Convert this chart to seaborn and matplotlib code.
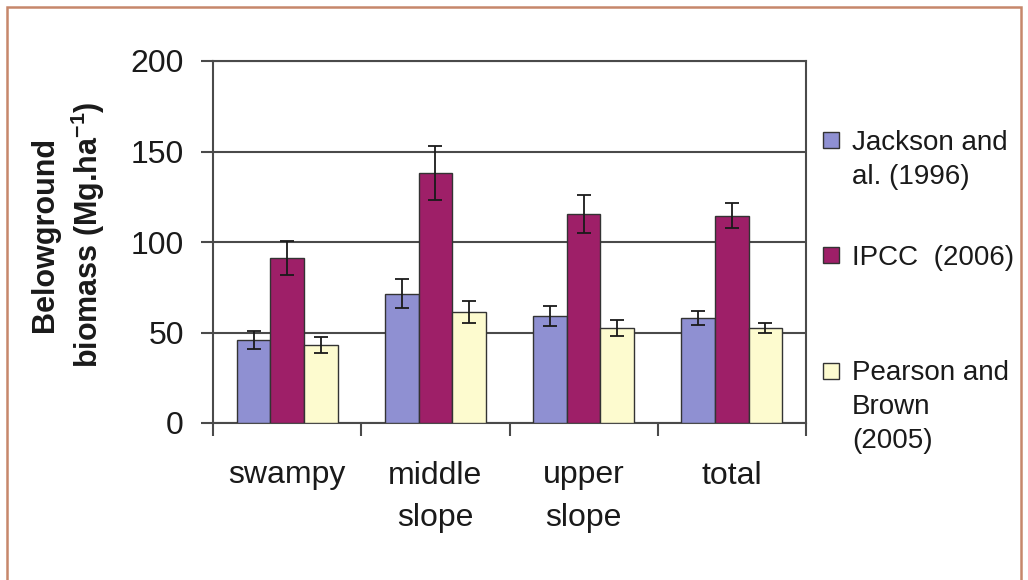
import numpy as np
import pandas as pd
import matplotlib
matplotlib.use("Agg")
import matplotlib.pyplot as plt
import seaborn as sns
from matplotlib.patches import Patch, Rectangle
from matplotlib.legend_handler import HandlerPatch

# ---------------- data ----------------
sites = ["swampy", "middle slope", "upper slope", "total"]
site_labels = ["swampy", "middle\nslope", "upper\nslope", "total"]
sources = ["Jackson and al. (1996)", "IPCC (2006)", "Pearson and Brown (2005)"]
legend_labels = ["Jackson and\nal. (1996)", "IPCC  (2006)\n", "Pearson and\nBrown\n(2005)"]

jackson = [46, 71.5, 59, 58]
jackson_err = [5, 8, 5.5, 4]
ipcc = [91, 138, 115.5, 114.5]
ipcc_err = [9.5, 15, 10.5, 7]
pearson = [43, 61.5, 52.5, 52.5]
pearson_err = [4.5, 6, 4.5, 2.5]

colors = ["#8f90d2", "#9e1f68", "#fdfbcf"]
yticks = [0, 50, 100, 150, 200]

df = pd.DataFrame({
    "site": sites * 3,
    "source": np.repeat(sources, len(sites)),
    "value": jackson + ipcc + pearson,
})

# ---------------- style ----------------
sns.set_theme(style="white")
plt.rcParams["font.family"] = ["Liberation Sans", "DejaVu Sans"]
plt.rcParams["mathtext.default"] = "regular"

W, H = 1028, 580
fig = plt.figure(figsize=(W / 100, H / 100), dpi=100)
fig.patch.set_facecolor("white")
ax = fig.add_axes([213 / W, 1 - 423 / H, (806 - 213) / W, (423 - 61) / H])

line_col = "#4a4a4a"

sns.barplot(data=df, x="site", y="value", hue="source", order=sites,
            hue_order=sources, palette=colors, saturation=1, width=0.68,
            edgecolor="#333333", linewidth=1.0, errorbar=None, legend=False,
            ax=ax, zorder=3)

for cont, errs in zip(ax.containers, [jackson_err, ipcc_err, pearson_err]):
    xs = [p.get_x() + p.get_width() / 2 for p in cont]
    ys = [p.get_height() for p in cont]
    ax.errorbar(xs, ys, yerr=errs, fmt="none", ecolor="#1a1a1a",
                elinewidth=1.3, capsize=5, capthick=1.3, zorder=5)

ax.set_ylim(0, 200)
ax.set_yticks(yticks)
ax.set_yticklabels([str(v) for v in yticks], fontsize=23)
ax.set_xlim(-0.5, len(sites) - 0.5)
ax.set_xticks(range(len(sites)))
ax.set_xticklabels(site_labels, fontsize=23)
for t in ax.get_xticklabels():
    t.set_linespacing(1.55)
ax.set_xticks(np.arange(-0.5, len(sites), 1.0), minor=True)
ax.tick_params(axis="x", which="major", length=0, pad=27, colors="#1a1a1a")
ax.tick_params(axis="x", which="minor", bottom=True, length=9, width=1.5,
               direction="out", color=line_col)
ax.tick_params(axis="y", which="major", left=True, length=9, width=1.5,
               direction="out", color=line_col, pad=12, labelcolor="#1a1a1a")

ax.set_xlabel("")
ax.set_ylabel("Belowground\nbiomass (Mg.ha$^{-1}$)", fontsize=22,
              fontweight="bold", linespacing=1.3, va="center",
              color="#1a1a1a")
ax.yaxis.set_label_coords(-0.243, 0.52)

ax.set_axisbelow(True)
ax.yaxis.grid(True, color=line_col, linewidth=1.5)
ax.xaxis.grid(False)
for s in ax.spines.values():
    s.set_visible(True)
    s.set_color(line_col)
    s.set_linewidth(1.5)


# ---------------- legend ----------------
def square(legend, orig_handle, xdescent, ydescent, width, height, fontsize):
    s = 0.58 * fontsize
    top = -ydescent + height
    return Rectangle((-xdescent, top - 0.08 * fontsize - s), s, s)


handles = [Patch(facecolor=c, edgecolor="#333333", linewidth=1.0) for c in colors]
leg = ax.legend(handles, legend_labels, loc="upper left",
                bbox_to_anchor=(823 / W, 1 - 130 / H),
                bbox_transform=fig.transFigure, frameon=False, borderpad=0,
                borderaxespad=0, handlelength=0.6, handleheight=0.7,
                handletextpad=0.45, labelspacing=2.0, fontsize=20,
                handler_map={Patch: HandlerPatch(patch_func=square)})
for t in leg.get_texts():
    t.set_linespacing(1.38)
    t.set_color("#1a1a1a")
try:
    for col in leg._legend_handle_box.get_children():
        for item in col.get_children():
            item.align = "top"
except Exception:
    pass

# ---------------- frame ----------------
fig.add_artist(Rectangle((7 / W, -0.02), (1021 - 7) / W, 1.02 - 7 / H,
                         transform=fig.transFigure, fill=False,
                         edgecolor="#c6876b", linewidth=1.8))

fig.savefig("out.png", dpi=100)
